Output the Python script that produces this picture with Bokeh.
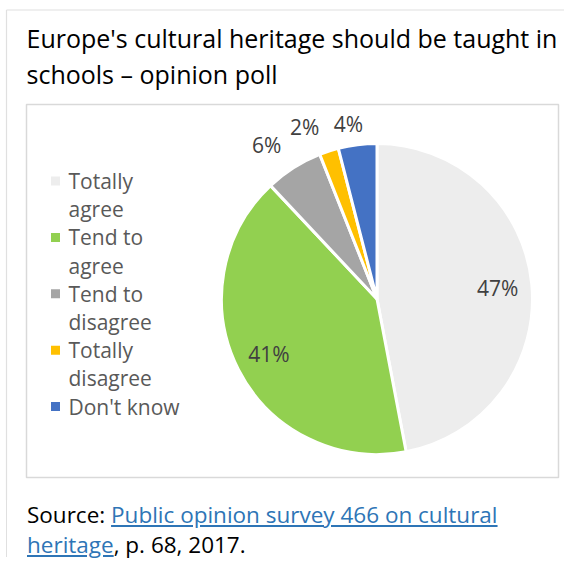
import textwrap
import numpy as np
from bokeh.plotting import figure
from bokeh.models import Range1d, Div
from bokeh.layouts import column
from bokeh.embed import file_html
from bokeh.resources import INLINE
from bokeh.core.properties import value

# ---------------- data ----------------
title_lines = ["Europe's cultural heritage should be taught in", "schools \u2013 opinion poll"]
categories = ["Totally agree", "Tend to agree", "Tend to disagree", "Totally disagree", "Don't know"]
shares = [47, 41, 6, 2, 4]
label_texts = ["47%", "41%", "6%", "2%", "4%"]
source_prefix = "Source: "
source_link_lines = ["Public opinion survey 466 on cultural", "heritage"]
source_suffix = ", p. 68, 2017."

# ---------------- style ----------------
colors = ["#EDEDED", "#92D050", "#A5A5A5", "#FFC000", "#4472C4"]
FONT = "Open Sans"
W, H = 564, 500
label_rfac = [0.78, 0.78, 1.22, 1.20, 1.14]
label_nudge_deg = [0, 0, 3.2, 4.8, 2.1]


def X(px):
    return px


def Y(py):
    return H - py


p = figure(width=W, height=H, x_range=Range1d(0, W), y_range=Range1d(0, H),
           output_backend="svg", toolbar_location=None, min_border=0)
p.axis.visible = False
p.grid.visible = False
p.outline_line_color = None
p.background_fill_color = "white"
p.border_fill_color = "white"

# outer border (left + top)
p.segment(x0=[X(6), X(6)], y0=[Y(9.5), Y(9.5)], x1=[X(6), W], y1=[0, Y(9.5)],
          line_color="#E0E0E0", line_width=1.2)

# title (y = vertical middle of capitals)
for i, line in enumerate(title_lines):
    p.text(x=[X(26)], y=[Y(37 + 36 * i)], text=[line], text_font=value(FONT),
           text_font_size="25px", text_color="#000000", text_baseline="middle",
           text_align="left")

# inner chart box
p.quad(left=[X(26)], right=[X(558)], top=[Y(104)], bottom=[Y(477)],
       fill_color=None, line_color="#D9D9D9", line_width=1.5)

# pie
cx, cy, r = X(376.5), Y(298.5), 155.5
frac = np.array(shares, dtype=float) / sum(shares)
cum = np.cumsum(frac)
start = np.pi / 2 - 2 * np.pi * (cum - frac)
end = np.pi / 2 - 2 * np.pi * cum
p.wedge(x=cx, y=cy, radius=r, start_angle=start, end_angle=end, direction="clock",
        fill_color=colors, line_color="white", line_width=3)

mid = (start + end) / 2 + np.radians(label_nudge_deg)
lx = cx + r * np.array(label_rfac) * np.cos(mid)
ly = cy + r * np.array(label_rfac) * np.sin(mid)
p.text(x=lx, y=ly, text=label_texts, text_font=value(FONT), text_font_size="21px",
       text_color="#404040", text_align="center", text_baseline="middle")

# legend
line_h = 28.2
first_mid = 180.5
row = 0
for cat, col in zip(categories, colors):
    lines = textwrap.wrap(cat, 10)
    ym = first_mid + line_h * row
    p.scatter(x=[X(55)], y=[Y(ym)], marker="square", size=9,
              fill_color=col, line_color=None)
    for j, ln in enumerate(lines):
        p.text(x=[X(68)], y=[Y(ym + line_h * j)], text=[ln], text_font=value(FONT),
               text_font_size="21px", text_color="#595959", text_baseline="middle")
    row += len(lines)

# source
link = "<br>".join(source_link_lines)
div = Div(text=(
    f'<div style="font-family:\'{FONT}\';font-size:22.5px;line-height:30px;color:#000;'
    f'padding-left:20px;border-left:1.2px solid #E0E0E0;margin-left:6px;height:57px;'
    f'box-sizing:border-box;">'
    f'{source_prefix}<a href="#" style="color:#2E75B6;text-decoration:underline;">{link}</a>'
    f'{source_suffix}</div>'),
    width=W, height=57, margin=(0, 0, 0, 0))

layout = column(p, div, spacing=0)
open("out.html", "w").write(file_html(layout, INLINE))
